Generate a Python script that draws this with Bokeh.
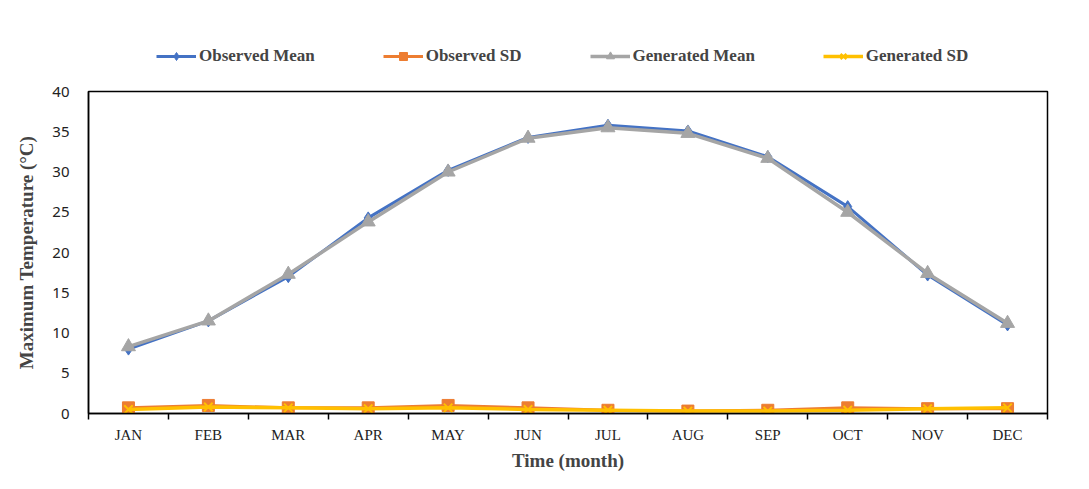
from bokeh.plotting import figure
from bokeh.layouts import column
from bokeh.models import (Range1d, FixedTicker, Legend, LegendItem, ColumnDataSource)
from bokeh.embed import file_html
from bokeh.resources import INLINE

months = ["JAN", "FEB", "MAR", "APR", "MAY", "JUN", "JUL", "AUG", "SEP", "OCT", "NOV", "DEC"]
observed_mean = [8.0, 11.5, 17.0, 24.3, 30.2, 34.3, 35.8, 35.1, 31.9, 25.7, 17.2, 11.0]
observed_sd = [0.7, 1.0, 0.7, 0.7, 1.0, 0.7, 0.4, 0.3, 0.4, 0.7, 0.6, 0.6]
generated_mean = [8.3, 11.5, 17.3, 23.8, 30.0, 34.2, 35.5, 34.8, 31.7, 25.0, 17.4, 11.2]
generated_sd = [0.5, 0.8, 0.7, 0.6, 0.7, 0.5, 0.4, 0.3, 0.3, 0.4, 0.6, 0.7]
y_ticks = [0, 5, 10, 15, 20, 25, 30, 35, 40]
series_names = ["Observed Mean", "Observed SD", "Generated Mean", "Generated SD"]

# month positions on a numeric axis (1..12), boundaries at half steps
month_pos = [i + 1 for i in range(len(months))]
boundaries = [i + 0.5 for i in range(len(months) + 1)]

src = ColumnDataSource(dict(x=month_pos, om=observed_mean, osd=observed_sd,
                            gm=generated_mean, gsd=generated_sd))

blue, orange, gray, gold = "#4472C4", "#ED7D31", "#A5A5A5", "#FFC000"

# ---------- main chart ----------
p = figure(width=1081, height=400, x_range=Range1d(0.5, len(months) + 0.5),
           y_range=Range1d(0, 40),
           output_backend="svg", toolbar_location=None,
           min_border_left=88, min_border_right=34, min_border_top=10, min_border_bottom=68)

p.grid.grid_line_color = None
p.outline_line_color = "black"
p.outline_line_width = 1.5
p.background_fill_color = "white"
p.border_fill_color = "white"

ya = p.yaxis[0]
ya.ticker = FixedTicker(ticks=y_ticks)
ya.major_tick_line_color = None
ya.minor_tick_line_color = None
ya.axis_line_color = "black"
ya.axis_line_width = 1.5
ya.major_label_standoff = 13
ya.major_label_text_font = "Noto Sans"
ya.major_label_text_font_size = "15px"
ya.major_label_text_color = "#222222"
ya.axis_label = "Maximum Temperature (°C)"
ya.axis_label_text_font = "Liberation Serif"
ya.axis_label_text_font_style = "bold"
ya.axis_label_text_font_size = "19px"
ya.axis_label_standoff = 12

xa = p.xaxis[0]
xa.ticker = FixedTicker(ticks=month_pos, minor_ticks=boundaries)
xa.major_label_overrides = {pos: m for pos, m in zip(month_pos, months)}
xa.major_tick_line_color = None
xa.minor_tick_line_color = "black"
xa.minor_tick_line_width = 1.5
xa.minor_tick_out = 6
xa.minor_tick_in = 0
xa.axis_line_color = "black"
xa.axis_line_width = 1.5
xa.major_label_standoff = 7
xa.major_label_text_font = "Liberation Serif"
xa.major_label_text_font_size = "15px"
xa.major_label_text_color = "#222222"
xa.axis_label = "Time (month)"
xa.axis_label_text_font = "Liberation Serif"
xa.axis_label_text_font_style = "bold"
xa.axis_label_text_font_size = "19px"
xa.axis_label_standoff = 4

styles = [
    dict(color=blue, width=3, marker="diamond", size=12),
    dict(color=orange, width=3, marker="square", size=12),
    dict(color=gray, width=3.5, marker="triangle", size=14),
    dict(color=gold, width=3.5, marker="x", size=12),
]
cols = ["om", "osd", "gm", "gsd"]


def draw(fig, col, st):
    lr = fig.line("x", col, source=src, line_color=st["color"], line_width=st["width"])
    if st["marker"] == "x":
        sr = fig.scatter("x", col, source=src, marker="x", size=st["size"],
                         line_color=st["color"], line_width=2)
    else:
        sr = fig.scatter("x", col, source=src, marker=st["marker"], size=st["size"],
                         fill_color=st["color"], line_color=st["color"])
    return lr, sr


for c, st in zip(cols, styles):
    draw(p, c, st)

# ---------- legend strip above the chart ----------
# the same series are drawn here outside the visible range; only the legend shows
leg = figure(width=1081, height=81, x_range=Range1d(-2, -1), y_range=Range1d(-2, -1),
             output_backend="svg", toolbar_location=None,
             x_axis_location=None, y_axis_location=None,
             min_border_left=0, min_border_right=0, min_border_top=0, min_border_bottom=0)
leg.grid.grid_line_color = None
leg.outline_line_color = None
leg.border_fill_color = "white"
leg.background_fill_color = "white"

items = []
for name, c, st in zip(series_names, cols, styles):
    lr, sr = draw(leg, c, st)
    items.append(LegendItem(label=name, renderers=[lr, sr]))

legend = Legend(items=items, orientation="horizontal", location=(68, 15),
                border_line_color=None, background_fill_alpha=0,
                label_text_font="Liberation Serif", label_text_font_style="bold",
                label_text_font_size="17px", glyph_width=40, label_standoff=3,
                spacing=68, padding=4, margin=0)
leg.add_layout(legend, "center")

layout = column(leg, p, spacing=0)
open("out.html", "w").write(file_html(layout, INLINE))
